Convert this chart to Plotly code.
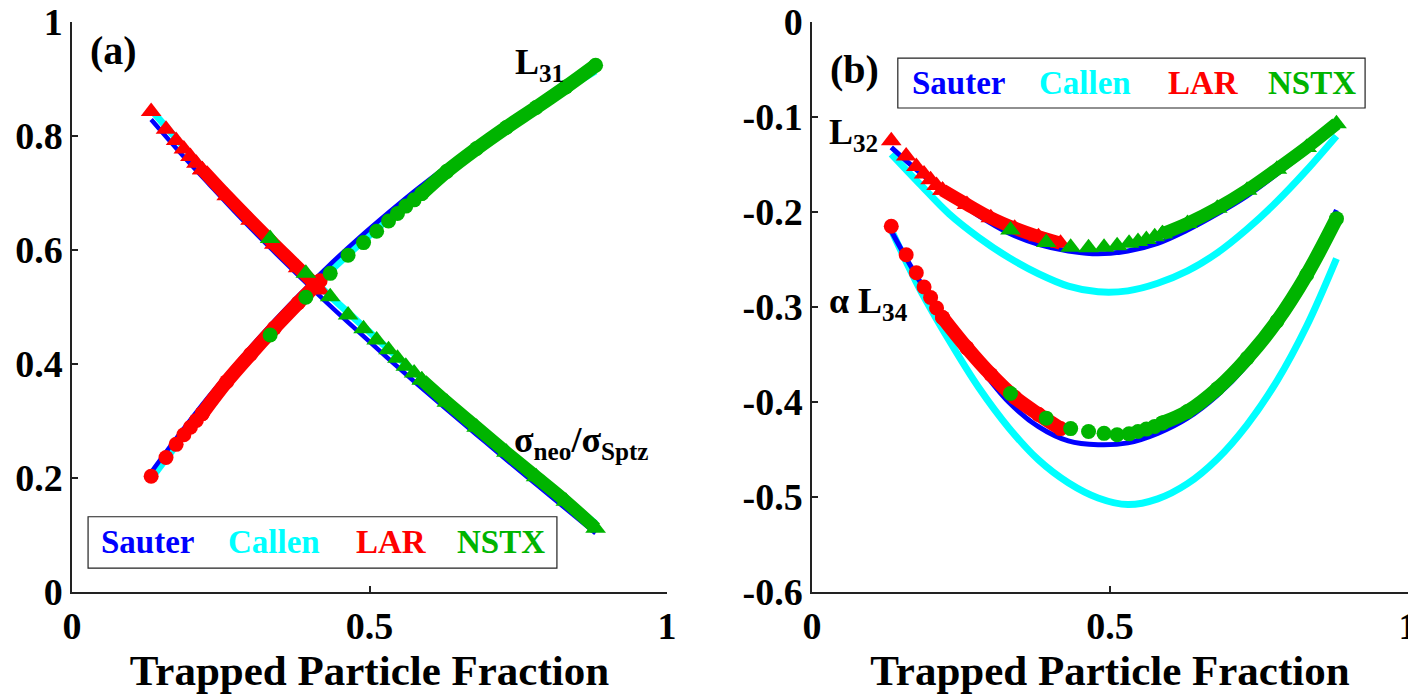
import plotly.graph_objects as go

# ---------------- data ----------------
# model curves: trapped particle fraction grid
f_model = [0.133, 0.18, 0.23, 0.28, 0.33, 0.38, 0.43, 0.48, 0.53, 0.58, 0.63, 0.68, 0.73, 0.78, 0.83, 0.88]

# panel (a)
sigma_sauter = [0.829, 0.773, 0.716, 0.660, 0.607, 0.556, 0.506, 0.458, 0.411, 0.365, 0.320, 0.276, 0.232, 0.189, 0.146, 0.103]
sigma_callen = [0.846, 0.790, 0.733, 0.677, 0.624, 0.573, 0.523, 0.475, 0.428, 0.382, 0.337, 0.293, 0.249, 0.206, 0.163, 0.120]
l31_sauter = [0.210, 0.276, 0.343, 0.405, 0.464, 0.519, 0.571, 0.619, 0.664, 0.707, 0.747, 0.785, 0.822, 0.856, 0.890, 0.922]
l31_callen = [0.199, 0.264, 0.330, 0.392, 0.451, 0.507, 0.559, 0.607, 0.653, 0.696, 0.737, 0.776, 0.813, 0.848, 0.882, 0.914]

# panel (b)
l32_sauter = [-0.132, -0.158, -0.182, -0.204, -0.222, -0.234, -0.241, -0.244, -0.241, -0.233, -0.219, -0.202, -0.183, -0.160, -0.136, -0.110]
l32_callen = [-0.139, -0.170, -0.202, -0.227, -0.248, -0.265, -0.278, -0.284, -0.283, -0.275, -0.262, -0.243, -0.218, -0.189, -0.156, -0.120]
l34_sauter = [-0.220, -0.272, -0.318, -0.362, -0.400, -0.426, -0.441, -0.445, -0.443, -0.433, -0.417, -0.393, -0.361, -0.319, -0.265, -0.198]
l34_callen = [-0.219, -0.280, -0.335, -0.385, -0.427, -0.461, -0.485, -0.501, -0.508, -0.502, -0.486, -0.460, -0.424, -0.378, -0.320, -0.249]

# LAR equilibrium points: sparse part and dense part
f_lar_pts = [0.133, 0.158, 0.175, 0.188, 0.199, 0.209, 0.219]
f_lar_dense = [0.219, 0.26, 0.30, 0.34, 0.38, 0.417]
sigma_lar_pts = [0.843, 0.812, 0.792, 0.777, 0.764, 0.752, 0.741]
sigma_lar_dense = [0.741, 0.695, 0.652, 0.610, 0.569, 0.530]
l31_lar_pts = [0.203, 0.236, 0.259, 0.276, 0.289, 0.301, 0.313]
l31_lar_dense = [0.313, 0.369, 0.417, 0.463, 0.507, 0.546]
l32_lar_pts = [-0.125, -0.141, -0.152, -0.160, -0.166, -0.172, -0.177]
l32_lar_dense = [-0.177, -0.192, -0.206, -0.217, -0.226, -0.233]
l34_lar_pts = [-0.215, -0.245, -0.264, -0.279, -0.290, -0.301, -0.311]
l34_lar_dense = [-0.311, -0.343, -0.371, -0.395, -0.413, -0.428]

# NSTX equilibrium points: sparse part and dense part
f_nstx_pts = [0.333, 0.393, 0.434, 0.464, 0.490, 0.512, 0.532, 0.547, 0.561, 0.575, 0.588]
f_nstx_dense = [0.588, 0.63, 0.68, 0.73, 0.78, 0.83, 0.88]
sigma_nstx_pts = [0.620, 0.559, 0.518, 0.486, 0.462, 0.442, 0.425, 0.410, 0.396, 0.384, 0.372]
sigma_nstx_dense = [0.372, 0.333, 0.289, 0.245, 0.202, 0.159, 0.112]
l31_nstx_pts = [0.451, 0.517, 0.559, 0.591, 0.613, 0.633, 0.651, 0.664, 0.677, 0.688, 0.699]
l31_nstx_dense = [0.699, 0.738, 0.778, 0.815, 0.850, 0.886, 0.924]
l32_nstx_pts = [-0.219, -0.232, -0.237, -0.2375, -0.237, -0.2355, -0.233, -0.231, -0.229, -0.226, -0.223]
l32_nstx_dense = [-0.223, -0.212, -0.196, -0.177, -0.155, -0.132, -0.107]
l34_nstx_pts = [-0.391, -0.417, -0.428, -0.431, -0.433, -0.4345, -0.4335, -0.431, -0.4285, -0.4257, -0.422]
l34_nstx_dense = [-0.422, -0.410, -0.386, -0.354, -0.315, -0.266, -0.207]

x_ticks = [0, 0.5, 1]
x_ticktext = ["0", "0.5", "1"]
ya_ticks = [0, 0.2, 0.4, 0.6, 0.8, 1]
ya_ticktext = ["0", "0.2", "0.4", "0.6", "0.8", "1"]
yb_ticks = [-0.6, -0.5, -0.4, -0.3, -0.2, -0.1, 0]
yb_ticktext = ["-0.6", "-0.5", "-0.4", "-0.3", "-0.2", "-0.1", "0"]

legend_names = ["Sauter", "Callen", "LAR", "NSTX"]

# ---------------- styling ----------------
BLUE = "#0000FF"
CYAN = "#00FFFF"
RED = "#FF0000"
GREEN = "#00B400"
FONT = "Liberation Serif, Times New Roman, serif"

TRI, CIR, BAND = 18, 15, 14

fig = go.Figure()


def model(x, y, color, width, xa, ya):
    fig.add_trace(go.Scatter(x=x, y=y, mode="lines", line=dict(color=color, width=width, shape="spline"),
                             xaxis=xa, yaxis=ya, showlegend=False, hoverinfo="skip"))


def points(xp, yp, xd, yd, color, symbol, size, xa, ya):
    fig.add_trace(go.Scatter(x=xd, y=yd, mode="lines+markers",
                             line=dict(color=color, width=BAND if symbol == "circle" else BAND - 1, shape="spline"),
                             marker=dict(color=color, symbol=symbol, size=size, line=dict(width=0)),
                             xaxis=xa, yaxis=ya, showlegend=False, hoverinfo="skip"))
    fig.add_trace(go.Scatter(x=xp, y=yp, mode="markers",
                             marker=dict(color=color, symbol=symbol, size=size, line=dict(width=0)),
                             xaxis=xa, yaxis=ya, showlegend=False, hoverinfo="skip"))


# panel (a)
model(f_model, sigma_callen, CYAN, 7, "x", "y")
model(f_model, l31_callen, CYAN, 7, "x", "y")
model(f_model, sigma_sauter, BLUE, 4.5, "x", "y")
model(f_model, l31_sauter, BLUE, 4.5, "x", "y")
points(f_lar_pts, sigma_lar_pts, f_lar_dense, sigma_lar_dense, RED, "triangle-up", TRI, "x", "y")
points(f_lar_pts, l31_lar_pts, f_lar_dense, l31_lar_dense, RED, "circle", CIR, "x", "y")
points(f_nstx_pts, sigma_nstx_pts, f_nstx_dense, sigma_nstx_dense, GREEN, "triangle-up", TRI, "x", "y")
points(f_nstx_pts, l31_nstx_pts, f_nstx_dense, l31_nstx_dense, GREEN, "circle", CIR, "x", "y")

# panel (b)
model(f_model, l32_callen, CYAN, 7, "x2", "y2")
model(f_model, l34_callen, CYAN, 7, "x2", "y2")
model(f_model, l32_sauter, BLUE, 5, "x2", "y2")
model(f_model, l34_sauter, BLUE, 5, "x2", "y2")
points(f_lar_pts, l32_lar_pts, f_lar_dense, l32_lar_dense, RED, "triangle-up", TRI, "x2", "y2")
points(f_lar_pts, l34_lar_pts, f_lar_dense, l34_lar_dense, RED, "circle", CIR, "x2", "y2")
points(f_nstx_pts, l32_nstx_pts, f_nstx_dense, l32_nstx_dense, GREEN, "triangle-up", TRI, "x2", "y2")
points(f_nstx_pts, l34_nstx_pts, f_nstx_dense, l34_nstx_dense, GREEN, "circle", CIR, "x2", "y2")

# page has an 8px body margin: the figure is 8px smaller and everything is placed 8px up/left
OFF = 8
W, H = 1416 - OFF, 698 - OFF
tickfont = dict(family=FONT, size=38, color="black", weight="bold")
titlefont = dict(family=FONT, size=43, color="black", weight="bold")
common_axis = dict(showline=True, linecolor="#222222", linewidth=1.5, ticks="inside", ticklen=6,
                   tickwidth=1.5, tickcolor="#222222", showgrid=False, zeroline=False,
                   tickfont=tickfont, automargin=False, mirror=False, ticklabeloverflow="allow")

ydom = [(H - (592 - OFF)) / H, (H - (22 - OFF)) / H]
fig.update_layout(
    width=W, height=H,
    margin=dict(l=0, r=0, t=0, b=0),
    paper_bgcolor="white", plot_bgcolor="white",
    showlegend=False,
    xaxis=dict(domain=[(72 - OFF) / W, (667 - OFF) / W], range=[0, 1], anchor="y", tickvals=x_ticks,
               ticktext=x_ticktext, title=dict(text="Trapped Particle Fraction", font=titlefont, standoff=0),
               **common_axis),
    yaxis=dict(domain=ydom, range=[0, 1], anchor="x", tickvals=ya_ticks, ticktext=ya_ticktext, **common_axis),
    xaxis2=dict(domain=[(812 - OFF) / W, (1408 - OFF) / W], range=[0, 1], anchor="y2", tickvals=x_ticks,
                ticktext=x_ticktext, title=dict(text="Trapped Particle Fraction", font=titlefont, standoff=0),
                **common_axis),
    yaxis2=dict(domain=ydom, range=[-0.6, 0], anchor="x2", tickvals=yb_ticks, ticktext=yb_ticktext, **common_axis),
)

lab = dict(family=FONT, size=36, color="black", weight="bold")
panfont = dict(family=FONT, size=40, color="black", weight="bold")
ann = [
    dict(x=0.027, y=0.95, xref="x", yref="y", text="(a)", font=panfont),
    dict(x=0.027, y=-0.05, xref="x2", yref="y2", text="(b)", font=panfont),
    dict(x=0.742, y=0.925, xref="x", yref="y", text="L<sub>31</sub>", font=lab),
    dict(x=0.740, y=0.262, xref="x", yref="y", text="σ<sub>neo</sub>/σ<sub>Sptz</sub>", font=lab),
    dict(x=0.025, y=-0.118, xref="x2", yref="y2", text="L<sub>32</sub>", font=lab),
    dict(x=0.025, y=-0.296, xref="x2", yref="y2", text="α L<sub>34</sub>", font=lab),
]
for a in ann:
    a.update(showarrow=False, xanchor="left", yanchor="middle")
fig.update_layout(annotations=ann)

# legends (text-only, boxed)
leg_colors = [BLUE, CYAN, RED, GREEN]
leg_a_x = [0.045, 0.258, 0.474, 0.643]
leg_b_x = [0.165, 0.378, 0.594, 0.762]
legfont = 33
for name, c, xa_, xb_ in zip(legend_names, leg_colors, leg_a_x, leg_b_x):
    fig.add_annotation(x=xa_, y=0.087, xref="x", yref="y", text=name, showarrow=False, xanchor="left",
                       yanchor="middle", font=dict(family=FONT, size=legfont, color=c, weight="bold"))
    fig.add_annotation(x=xb_, y=-0.064, xref="x2", yref="y2", text=name, showarrow=False, xanchor="left",
                       yanchor="middle", font=dict(family=FONT, size=legfont, color=c, weight="bold"))

fig.add_shape(type="rect", xref="x", yref="y", x0=0.027, x1=0.815, y0=0.042, y1=0.132,
              line=dict(color="#222222", width=1.2), fillcolor="white", layer="below")
fig.add_shape(type="rect", xref="x2", yref="y2", x0=0.144, x1=0.928, y0=-0.0905, y1=-0.038,
              line=dict(color="#222222", width=1.2), fillcolor="white", layer="below")

fig.write_html("out.html")
